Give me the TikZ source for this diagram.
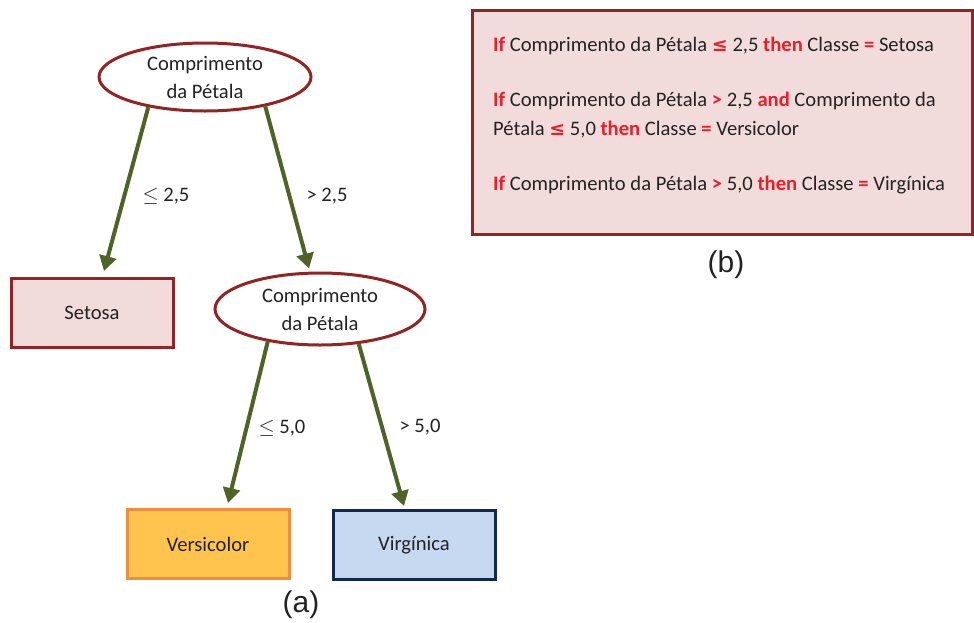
\documentclass[tikz,border=0pt]{standalone}
\usepackage{fontspec}
\setmainfont{Carlito}
\newfontfamily\labelfont{Liberation Sans}
\newfontfamily\symfont{DejaVu Sans}
\usetikzlibrary{shapes.geometric,arrows.meta}
\definecolor{darkred}{RGB}{148,36,36}
\definecolor{pinkfill}{RGB}{242,220,219}
\definecolor{branch}{RGB}{79,98,40}
\definecolor{orangeline}{RGB}{238,142,62}
\definecolor{orangefill}{RGB}{255,196,78}
\definecolor{navyline}{RGB}{18,40,82}
\definecolor{bluefill}{RGB}{198,217,240}
\definecolor{rulered}{RGB}{235,30,40}
\definecolor{ink}{RGB}{35,35,35}
\tikzset{
  test/.style={ellipse, draw=darkred, line width=3pt, fill=white, inner sep=0pt,
    minimum width=212pt, minimum height=68pt, align=center, font=\fontsize{20.6}{28}\selectfont, text=ink},
  leaf/.style={rectangle, line width=3pt, minimum width=162pt, minimum height=69pt,
    inner sep=0pt, font=\fontsize{20.6}{24}\selectfont, text=ink},
  branchline/.style={draw=branch, line width=4pt, -{Triangle[length=15pt,width=17pt]}},
  cond/.style={font=\fontsize{20.6}{24}\selectfont, text=ink, inner sep=0pt},
  ruleline/.style={anchor=west, inner sep=0pt, font=\fontsize{20.6}{24}\selectfont, text=ink},
  caption/.style={font=\labelfont\fontsize{30}{32}\selectfont, text=ink, inner sep=0pt}
}
\newcommand{\kw}[1]{\textcolor{rulered}{\textbf{#1}}}
\newcommand{\kwle}{\textcolor{rulered}{{\symfont\bfseries\fontsize{19}{24}\selectfont ≤}}}
\begin{document}
\begin{tikzpicture}[x=1pt,y=-1pt]
  \useasboundingbox (0,0) rectangle (974,622);

  % tree nodes
  \node[test] (root) at (205,77) {Comprimento\\da Pétala};
  \node[test, minimum width=210pt, minimum height=72pt] (inner) at (320,309) {Comprimento\\da Pétala};
  \node[leaf, draw=darkred, fill=pinkfill] (setosa) at (92,313) {Setosa};
  \node[leaf, draw=orangeline, fill=orangefill] (versicolor) at (208,544) {Versicolor};
  \node[leaf, draw=navyline, fill=bluefill] (virginica) at (414,545) {Virgínica};

  % branches
  \draw[branchline] (root.208) -- ([xshift=12pt,yshift=6pt]setosa.north);
  \draw[branchline] (root.334) -- ([xshift=-11pt,yshift=3pt]inner.north);
  \draw[branchline] (inner.212) -- ([xshift=20pt,yshift=5pt]versicolor.north);
  \draw[branchline] (inner.318) -- ([xshift=-10pt,yshift=3pt]virginica.north);

  % branch conditions
  \node[cond] (c1) at (166,196) {$\leq$ 2,5};
  \node[cond] (c2) at (327,196) {> 2,5};
  \node[cond] (c3) at (282,428) {$\leq$ 5,0};
  \node[cond] (c4) at (420,427) {> 5,0};

  % rule set
  \node[draw=darkred, line width=3pt, fill=pinkfill, minimum width=500pt, minimum height=224pt,
        inner sep=0pt] (rules) at (722.5,122.5) {};
  \node[ruleline] (r1) at (493,46) {\kw{If} Comprimento da Pétala \kwle{} 2,5 \kw{then} Classe \kw{=} Setosa};
  \node[ruleline] (r2) at (493,101) {\kw{If} Comprimento da Pétala \kw{>} 2,5 \kw{and} Comprimento da};
  \node[ruleline] (r3) at (493,130) {Pétala \kwle{} 5,0 \kw{then} Classe \kw{=} Versicolor};
  \node[ruleline] (r4) at (493,185) {\kw{If} Comprimento da Pétala \kw{>} 5,0 \kw{then} Classe \kw{=} Virgínica};

  % panel captions
  \node[caption] (capa) at (301,605) {(a)};
  \node[caption] (capb) at (726,265) {(b)};
\end{tikzpicture}
\end{document}
